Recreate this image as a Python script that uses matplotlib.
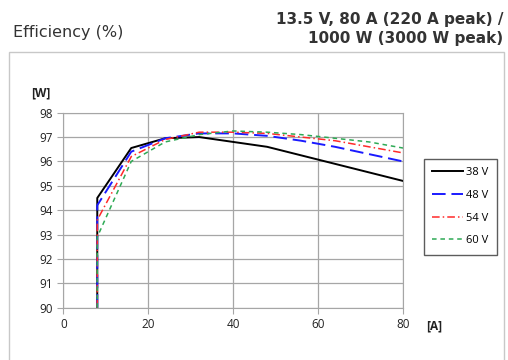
import matplotlib
matplotlib.use("Agg")
import matplotlib.pyplot as plt
from matplotlib.patches import Rectangle

current = [8, 8, 16, 24, 32, 40, 48, 56, 64, 72, 80]
eff_38 = [90, 94.5, 96.55, 96.95, 97.0, 96.8, 96.6, 96.25, 95.9, 95.55, 95.2]
eff_48 = [90, 94.2, 96.4, 96.95, 97.15, 97.15, 97.05, 96.85, 96.6, 96.3, 96.0]
eff_54 = [90, 93.6, 96.2, 96.9, 97.2, 97.2, 97.15, 97.0, 96.85, 96.6, 96.35]
eff_60 = [90, 92.9, 96.0, 96.8, 97.1, 97.25, 97.2, 97.1, 96.95, 96.8, 96.55]
labels = ["38 V", "48 V", "54 V", "60 V"]

fig = plt.figure(figsize=(5.08, 3.6), dpi=100)
ax = fig.add_axes([0.1246, 0.1453, 0.6687, 0.5417])

ax.plot(current, eff_38, color="black", lw=1.4, ls="-", label=labels[0])
ax.plot(current, eff_48, color="#1a1aff", lw=1.4, ls=(0, (7, 3)), label=labels[1])
ax.plot(current, eff_54, color="#ff2a2a", lw=1.1, ls=(0, (5, 2, 1, 2)), label=labels[2])
ax.plot(current, eff_60, color="#2eaa55", lw=1.1, ls=(0, (3, 2.5)), label=labels[3])

ax.set_xlim(0, 80)
ax.set_ylim(90, 98)
ax.set_xticks([0, 20, 40, 60, 80])
ax.set_yticks(range(90, 99))
ax.grid(True, color="#a6a6a6", lw=0.9)
for s in ax.spines.values():
    s.set_color("#a6a6a6")
ax.tick_params(colors="#a6a6a6", labelcolor="#222222", labelsize=8.5, length=4)
for t in ax.get_xticklabels() + ax.get_yticklabels():
    t.set_family("Open Sans")

fig.text(31 / 508, 1 - 93 / 360, "[W]", fontsize=8.5, fontweight="bold",
         family="Open Sans", va="center", ha="left", color="#222222")
fig.text(426 / 508, 1 - 326 / 360, "[A]", fontsize=8.5, fontweight="bold",
         family="Open Sans", va="center", ha="left", color="#222222")

leg = ax.legend(loc="upper left", bbox_to_anchor=(424 / 508, 1 - 159 / 360),
                bbox_transform=fig.transFigure, frameon=True, borderaxespad=0,
                fancybox=False, handlelength=2.8, handletextpad=0.25,
                labelspacing=1.05, borderpad=0.75, prop={"family": "Open Sans", "size": 8})
leg.get_frame().set_edgecolor("#333333")
leg.get_frame().set_linewidth(1.0)

fig.text(13 / 508, 1 - 33 / 360, "Efficiency (%)", fontsize=11.5, family="DejaVu Sans",
         va="center", ha="left", color="#333333")
fig.text(503 / 508, 1 - 29 / 360, "13.5 V, 80 A (220 A peak) /\n1000 W (3000 W peak)",
         fontsize=11, family="DejaVu Sans", fontweight="bold", va="center", ha="right",
         color="#333333", linespacing=1.3)

fig.patches.append(Rectangle((9 / 508, -0.05), 495 / 508, 1.05 - 52 / 360,
                             transform=fig.transFigure, fill=False,
                             edgecolor="#c8c8c8", lw=1.0))

fig.savefig("out.png", dpi=100)
